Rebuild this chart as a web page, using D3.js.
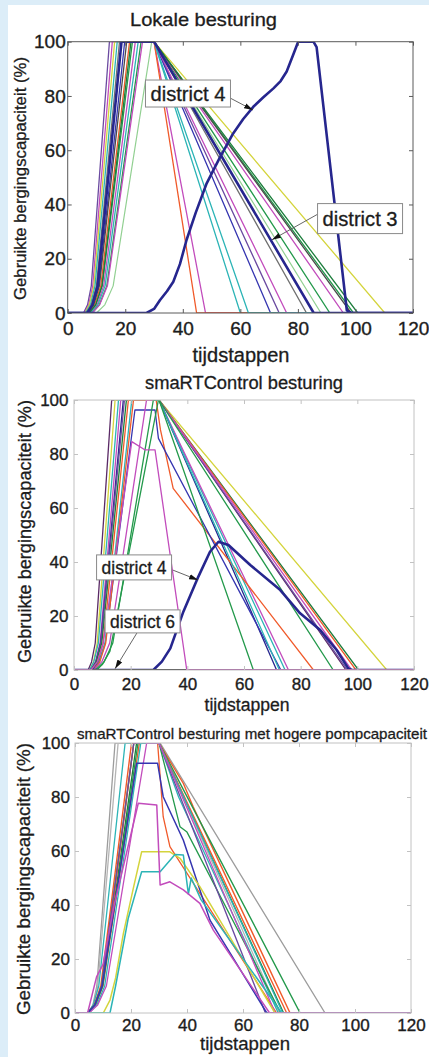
<!DOCTYPE html>
<html>
<head>
<meta charset="utf-8">
<script src="https://cdn.jsdelivr.net/npm/d3@7"></script>
<style>
  html, body { margin: 0; padding: 0; background: #fff; }
  svg { display: block; font-family: "Liberation Sans", Arial, sans-serif; }
</style>
</head>
<body>
<script>
// tick values
const xTicks = [0, 20, 40, 60, 80, 100, 120]
const yTicks = [0, 20, 40, 60, 80, 100]

// ---- Lokale besturing : [tijdstap, % berging] ----
const lokPurple     = [[0,0],[5.5,0],[6.9,3],[8.2,10],[14.5,100],[30,100],[73.5,0],[120,0]]
const lokMagenta1   = [[0,0],[5.8,0],[7.3,3],[8.7,10],[15.5,100],[30,100],[47.9,0],[120,0]]
const lokYellow     = [[0,0],[6,0],[7.5,3],[9.1,10],[16.3,100],[30,100],[110.2,0],[120,0]]
const lokCyan1      = [[0,0],[6.2,0],[7.9,3],[9.5,10],[17.2,100],[30,100],[60,0],[120,0]]
const lokGrey       = [[0,0],[6.5,0],[8.2,3],[10,10],[18,100],[30,100],[83,0],[120,0]]
const lokBlue       = [[0,0],[7,0],[8.9,3],[10.8,10],[19.8,100],[30,100],[70.5,0],[120,0]]
const lokRed        = [[0,0],[7.2,0],[9.3,3],[11.5,10],[21.5,100],[30,100],[44.8,0],[120,0]]
const lokGreen1     = [[0,0],[7.5,0],[9.8,3],[12,10],[22.5,100],[30,100],[91.1,0],[120,0]]
const lokMagenta2   = [[0,0],[7.8,0],[10.2,3],[12.5,10],[23.5,100],[30,100],[76.1,0],[120,0]]
const lokCyan2      = [[0,0],[8,0],[10.5,3],[13,10],[24.5,100],[30,100],[62.8,0],[120,0]]
const lokGreen2     = [[0,0],[8.5,0],[11,3],[13.6,10],[25.5,100],[30,100],[99.3,0],[120,0]]
const lokMagenta3   = [[0,0],[8.5,0],[11.1,3],[13.8,10],[26,100],[30,100],[95.8,0],[120,0]]
const lokDarkGrey   = [[0,0],[7,0],[9,3],[11,10],[20.5,100],[30,100],[98.5,0],[120,0]]
const lokGreen3     = [[0,0],[7.5,0],[9.7,3],[11.9,10],[22,100],[30,100],[100.8,0],[120,0]]
const lokLightGreen = [[0,0],[10,0],[12.9,3],[15.8,10],[29.2,100],[30,100],[88,0],[120,0]]
const lokDistrict3  = [[0,0],[6.8,0],[8.6,3],[10.4,10],[18.7,100],[30,100],[85.5,0],[120,0]]
const lokDistrict4  = [[0,0],[27.4,0],[30,1.5],[32.1,4.8],[34.5,8],[36.7,11.5],[39,18],[41.3,26.9],[44.5,37],[48.3,47.8],[52.5,56.5],[57.5,66.2],[61,71.5],[64.5,76],[68,79.5],[71.5,82.8],[74,85.5],[76.1,89],[78.3,95],[80.1,100],[85.4,100],[86.5,98],[97,1],[98.6,0],[120,0]]

// ---- smaRTControl besturing ----
const smDarkPurple  = [[0,0],[5,0],[6.2,3],[7.5,10],[13.3,100],[30,100],[96,0],[120,0]]
const smYellow      = [[0,0],[5.5,0],[6.9,3],[8.2,10],[14.5,100],[30,100],[110.4,0],[120,0]]
const smCyan1       = [[0,0],[5.5,0],[7,3],[8.6,10],[15.7,100],[30,100],[74.5,0],[120,0]]
const smMagenta1    = [[0,0],[6,0],[7.6,3],[9.2,10],[16.5,100],[30,100],[75.7,0],[120,0]]
const smNavy        = [[0,0],[6,0],[7.7,3],[9.4,10],[17.4,100],[30,100],[71.5,0],[120,0]]
const smPurple      = [[0,0],[6,0],[7.8,3],[9.5,10],[17.8,100],[30,100],[96.5,0],[120,0]]
const smGreen1      = [[0,0],[6,0],[7.9,3],[9.8,10],[18.5,100],[30,100],[100.4,0],[120,0]]
const smRed1        = [[0,0],[6.5,0],[8.4,3],[10.3,10],[19.2,100],[29,100],[30.5,89],[35,67.3],[84.5,0],[120,0]]
const smBlue96      = [[0,0],[6.5,0],[8.8,3],[11,10],[21.5,96.3],[28.6,96.3],[29.8,85.8],[73,0],[120,0]]
const smCyan2       = [[0,0],[7,0],[9,3],[11,10],[20.4,100],[30,100],[72.5,0],[120,0]]
const smRed2        = [[0,0],[7,0],[9.1,3],[11.2,10],[21,100],[30,100],[99.5,0],[120,0]]
const smMagenta2    = [[0,0],[7,0],[9.8,3],[12.6,10],[25.6,100],[30,100],[98,0],[120,0]]
const smGreen2      = [[0,0],[7.5,0],[10.6,3],[13.7,10],[28,100],[30,100],[63.3,0],[120,0]]
const smGreen3      = [[0,0],[8,0],[10,2],[12.7,7],[29.8,100],[30,100],[91.5,0],[120,0]]
const smMagenta84   = [[0,0],[6,0],[8.2,3],[10.3,10],[20.4,84.6],[25.1,81.5],[28.6,81.5],[39.8,0],[120,0]]
const smDistrict4   = [[0,0],[28,0],[31,3.1],[34,8],[38.6,21.6],[43.9,34.6],[48,43.8],[51,47.5],[54.5,46.3],[62.2,38.9],[72.8,29.6],[79.8,21],[86.9,14.8],[92.7,7.4],[96.8,0.6],[98,0],[120,0]]
const smDistrict6   = [[0,0],[120,0]]

// ---- smaRTControl besturing met hogere pompcapaciteit ----
const hogGrey1      = [[0,0],[5,0],[6.4,3],[7.8,10],[14.3,100],[30.4,100],[89.3,0],[120,0]]
const hogGrey2      = [[0,0],[5,0],[6.6,3],[8.1,10],[15.4,100],[30,100],[73,0],[120,0]]
const hogCyan1      = [[0,0],[4.5,0],[6.5,3],[8.5,10],[17.9,100],[30,100],[37,80],[72.6,0],[120,0]]
const hogRed1       = [[0,0],[4.5,0],[6.9,3],[9.2,10],[20.2,100],[30,100],[35.1,91.2],[38.7,85],[42.2,76.4],[76.8,0],[120,0]]
const hogGreen1     = [[0,0],[4.5,0],[7,3],[9.5,10],[21,100],[30,100],[80.4,0],[120,0]]
const hogGreen2     = [[0,0],[4.5,0],[7.1,3],[9.8,10],[22,100],[30,100],[74.5,0],[120,0]]
const hogRed2       = [[0,0],[4.5,0],[7.3,3],[10,10],[23,100],[30,100],[75.6,0],[120,0]]
const hogOrange     = [[0,0],[5,0],[7.4,3],[9.8,10],[21,100],[29.5,100],[31.5,72.7],[33.9,61.6],[72,0],[120,0]]
const hogGreen3     = [[0,0],[4.5,0],[7.2,3],[9.9,10],[22.5,100],[30,100],[37.5,69],[40,67],[73.5,0],[120,0]]
const hogPurple     = [[0,0],[4.5,0],[7,3],[9.5,10],[21,100],[30,100],[68,0],[120,0]]
const hogCyan2      = [[0,0],[5,0],[7.8,3],[10.6,10],[23.5,100],[30,100],[74.2,0],[120,0]]
const hogMagenta2   = [[0,0],[5,0],[8.1,3],[11.2,10],[25.6,100],[30,100],[71.5,0],[120,0]]
const hogBlue93     = [[0,0],[4.5,0],[7.1,3],[9.7,10],[22,92.5],[29.5,92.5],[31.5,80.1],[38.7,64],[48.2,34.4],[68.5,0],[120,0]]
const hogYellow60   = [[0,0],[10.1,0],[12.5,4.8],[14.5,13],[17.3,29.6],[21,47],[23.8,59.7],[33.9,59.7],[37.5,57.3],[44.6,46.8],[71.4,0],[120,0]]
const hogCyan53     = [[0,0],[12.5,0],[14.5,10],[19,35],[23.8,52.3],[30.4,52.3],[35.7,58.7],[38.7,58.5],[40.5,44],[41.5,50],[45,42],[73.8,0],[120,0]]
const hogMagenta78  = [[0,0],[4.5,0],[7.7,13.4],[10,18],[14,40],[22.6,77.7],[29.2,77],[30.4,47.4],[33.9,48.6],[38.7,45.6],[44.6,40.6],[49.4,30.7],[69.5,0],[120,0]]

//------------------------------------------------------------------------------

const C = {
    blue: '#3535b0', navy: '#26268e', green: '#23994b', dkgreen: '#1c7d3c', red: '#f05a2a',
    cyan: '#2cb4b6', magenta: '#c24cbc', yellow: '#d4d43c', grey: '#707070', dkgrey: '#4a4a4a',
    lgrey: '#9c9c9c', purple: '#6a4aa0', dkpurple: '#5a2a66', lgreen: '#92d092', black: '#151515'
}

const panels = [
    {
        left: 67.7, right: 413, top: 41.7, bottom: 313, frame: '#5a5a5a',
        tickSize: 19, padX: 9, padY: 2,
        title: 'Lokale besturing', titleX: 130, titleY: 26, titleSize: 18.5, titleLen: 147,
        xlabelX: 241, xlabelY: 362, xlabelSize: 20, xlabelLen: 97,
        ylabelX: 25.5, ylabelY: 178.5, ylabelSize: 17, ylabelLen: 243,
        series: [
            [lokPurple, C.purple, 1.3], [lokMagenta1, C.magenta, 1.3], [lokYellow, C.yellow, 1.3],
            [lokCyan1, C.cyan, 1.3], [lokGrey, C.grey, 1.3], [lokBlue, C.blue, 1.3],
            [lokRed, C.red, 1.3], [lokGreen1, C.green, 1.3], [lokMagenta2, C.magenta, 1.3],
            [lokCyan2, C.cyan, 1.3], [lokGreen2, C.green, 1.3], [lokMagenta3, C.magenta, 1.3],
            [lokDarkGrey, C.dkgrey, 1.3], [lokGreen3, C.dkgreen, 1.3], [lokLightGreen, C.lgreen, 1.2],
            [lokDistrict3, C.navy, 2.6], [lokDistrict4, C.navy, 2.6]
        ],
        notes: [
            { text: 'district 4', cx: 41.8, cy: 80.9, size: 19.5, len: 75, h: 27, from: [55.8, 79.6], to: [64.4, 74.8] },
            { text: 'district 3', cx: 101.6, cy: 34.8, size: 19.5, len: 75, h: 30, from: [87.7, 36.9], to: [71, 27] }
        ]
    },
    {
        left: 74, right: 414, top: 400, bottom: 670, frame: '#c2c2c2',
        tickSize: 17, padX: 7.5, padY: 5.5,
        title: 'smaRTControl besturing', titleX: 145, titleY: 389, titleSize: 18, titleLen: 198,
        xlabelX: 247, xlabelY: 711, xlabelSize: 18, xlabelLen: 85,
        ylabelX: 31.4, ylabelY: 531.5, ylabelSize: 18.3, ylabelLen: 263,
        series: [
            [smDarkPurple, C.dkpurple, 1.3], [smYellow, C.yellow, 1.3], [smCyan1, C.cyan, 1.3],
            [smMagenta1, C.magenta, 1.3], [smNavy, C.navy, 1.3], [smPurple, C.purple, 1.3],
            [smGreen1, C.dkgreen, 1.3], [smRed1, C.red, 1.3], [smBlue96, C.blue, 1.3],
            [smCyan2, C.cyan, 1.3], [smRed2, C.red, 1.3], [smMagenta2, C.magenta, 1.3],
            [smGreen2, C.green, 1.3], [smGreen3, C.green, 1.3],
            [smDistrict4, C.navy, 2.6], [smDistrict6, C.black, 2.2], [smMagenta84, C.magenta, 1.3]
        ],
        notes: [
            { text: 'district 4', cx: 21.2, cy: 38, size: 17.5, len: 65, h: 25, from: [34.9, 37], to: [43.8, 33.3] },
            { text: 'district 6', cx: 24.2, cy: 18, size: 17.5, len: 65, h: 23, from: [22.2, 13.7], to: [14.5, 0.5] }
        ]
    },
    {
        left: 75, right: 411, top: 743, bottom: 1013, frame: '#c2c2c2',
        tickSize: 17, padX: 6, padY: 5,
        title: 'smaRTControl besturing met hogere pompcapaciteit', titleX: 77, titleY: 738.5, titleSize: 15, titleLen: 350,
        xlabelX: 245, xlabelY: 1050, xlabelSize: 18.6, xlabelLen: 90,
        ylabelX: 30.2, ylabelY: 879, ylabelSize: 18.9, ylabelLen: 272,
        series: [
            [hogGrey1, C.lgrey, 1.3], [hogGrey2, '#b4b4b4', 1.3], [hogCyan1, C.cyan, 1.3],
            [hogRed1, C.red, 1.4], [hogGreen1, C.green, 1.4], [hogGreen2, C.dkgreen, 1.3],
            [hogRed2, C.red, 1.3], [hogOrange, C.red, 1.3], [hogGreen3, C.green, 1.3],
            [hogPurple, C.purple, 1.3], [hogCyan2, C.cyan, 1.3], [hogMagenta2, C.magenta, 1.3],
            [hogBlue93, C.blue, 1.5], [hogYellow60, C.yellow, 1.5], [hogCyan53, C.cyan, 1.5],
            [hogMagenta78, C.magenta, 1.5]
        ],
        notes: []
    }
]

//------------------------------------------------------------------------------

const W = 429, H = 1057

const svg = d3.select('body')
    .append('svg')
    .attr('width', W)
    .attr('height', H)

svg.append('rect').attr('width', W).attr('height', H).attr('fill', '#dcedf8')
svg.append('rect').attr('x', 8).attr('y', 5).attr('width', W - 8).attr('height', H - 5).attr('fill', '#fff')

const defs = svg.append('defs')
defs.append('marker')
    .attr('id', 'arrowhead')
    .attr('viewBox', '0 0 10 6')
    .attr('refX', 10).attr('refY', 3)
    .attr('markerWidth', 9).attr('markerHeight', 6)
    .attr('markerUnits', 'userSpaceOnUse')
    .attr('orient', 'auto')
    .append('path')
    .attr('d', 'M0,0 L10,3 L0,6 Z')
    .attr('fill', '#111')

const textColor = '#1c1c1c'

panels.forEach((p, i) => {
    const x = d3.scaleLinear().domain([0, 120]).range([p.left, p.right])
    const y = d3.scaleLinear().domain([0, 100]).range([p.bottom, p.top])

    const g = svg.append('g')

    defs.append('clipPath')
        .attr('id', 'clip' + i)
        .append('rect')
        .attr('x', p.left).attr('y', p.top)
        .attr('width', p.right - p.left).attr('height', p.bottom - p.top)

    const line = d3.line()
        .x(d => x(d[0]))
        .y(d => y(d[1]))

    g.append('g')
        .attr('clip-path', `url(#clip${i})`)
        .selectAll('path')
        .data(p.series)
        .join('path')
        .attr('d', d => line(d[0]))
        .attr('fill', 'none')
        .attr('stroke', d => d[1])
        .attr('stroke-width', d => d[2])
        .attr('stroke-linejoin', 'round')

    // frame
    g.append('rect')
        .attr('x', p.left).attr('y', p.top)
        .attr('width', p.right - p.left).attr('height', p.bottom - p.top)
        .attr('fill', 'none')
        .attr('stroke', p.frame)
        .attr('stroke-width', 1)

    const styleAxis = a => {
        a.select('.domain').remove()
        a.selectAll('.tick line').attr('stroke', p.frame)
        a.selectAll('.tick text')
            .attr('font-size', p.tickSize)
            .attr('fill', textColor)
            .attr('stroke', textColor)
            .attr('stroke-width', 0.35)
        a.attr('font-family', null).attr('font-size', null)
    }

    g.append('g')
        .attr('transform', `translate(0,${p.bottom})`)
        .call(d3.axisBottom(x).tickValues(xTicks).tickSizeInner(-4).tickSizeOuter(0).tickPadding(p.padX))
        .call(styleAxis)
    g.append('g')
        .attr('transform', `translate(${p.left},0)`)
        .call(d3.axisLeft(y).tickValues(yTicks).tickSizeInner(-4).tickSizeOuter(0).tickPadding(p.padY))
        .call(styleAxis)
    g.append('g')
        .attr('transform', `translate(0,${p.top})`)
        .call(d3.axisTop(x).tickValues(xTicks).tickSizeInner(-4).tickSizeOuter(0).tickFormat(''))
        .call(styleAxis)
    g.append('g')
        .attr('transform', `translate(${p.right},0)`)
        .call(d3.axisRight(y).tickValues(yTicks).tickSizeInner(-4).tickSizeOuter(0).tickFormat(''))
        .call(styleAxis)

    // title
    g.append('text')
        .attr('x', p.titleX).attr('y', p.titleY)
        .attr('font-size', p.titleSize)
        .attr('textLength', p.titleLen)
        .attr('lengthAdjust', 'spacingAndGlyphs')
        .attr('fill', textColor).attr('stroke', textColor).attr('stroke-width', 0.3)
        .text(p.title)

    // x label
    g.append('text')
        .attr('x', p.xlabelX).attr('y', p.xlabelY)
        .attr('text-anchor', 'middle')
        .attr('font-size', p.xlabelSize)
        .attr('textLength', p.xlabelLen)
        .attr('lengthAdjust', 'spacingAndGlyphs')
        .attr('fill', textColor).attr('stroke', textColor).attr('stroke-width', 0.3)
        .text('tijdstappen')

    // y label
    g.append('text')
        .attr('transform', `translate(${p.ylabelX},${p.ylabelY}) rotate(-90)`)
        .attr('text-anchor', 'middle')
        .attr('font-size', p.ylabelSize)
        .attr('textLength', p.ylabelLen)
        .attr('lengthAdjust', 'spacingAndGlyphs')
        .attr('fill', textColor).attr('stroke', textColor).attr('stroke-width', 0.3)
        .text('Gebruikte bergingscapaciteit (%)')

    // annotations
    p.notes.forEach(n => {
        g.append('line')
            .attr('x1', x(n.from[0])).attr('y1', y(n.from[1]))
            .attr('x2', x(n.to[0])).attr('y2', y(n.to[1]))
            .attr('stroke', '#555')
            .attr('stroke-width', 0.9)
            .attr('marker-end', 'url(#arrowhead)')

        const bw = n.len + 10
        g.append('rect')
            .attr('x', x(n.cx) - bw / 2).attr('y', y(n.cy) - n.h / 2)
            .attr('width', bw).attr('height', n.h)
            .attr('fill', '#fff')
            .attr('stroke', '#8a8a8a')
            .attr('stroke-width', 1)

        g.append('text')
            .attr('x', x(n.cx)).attr('y', y(n.cy) + n.size * 0.36)
            .attr('text-anchor', 'middle')
            .attr('font-size', n.size)
            .attr('textLength', n.len)
            .attr('lengthAdjust', 'spacingAndGlyphs')
            .attr('fill', textColor).attr('stroke', textColor).attr('stroke-width', 0.3)
            .text(n.text)
    })
})
</script>
</body>
</html>
